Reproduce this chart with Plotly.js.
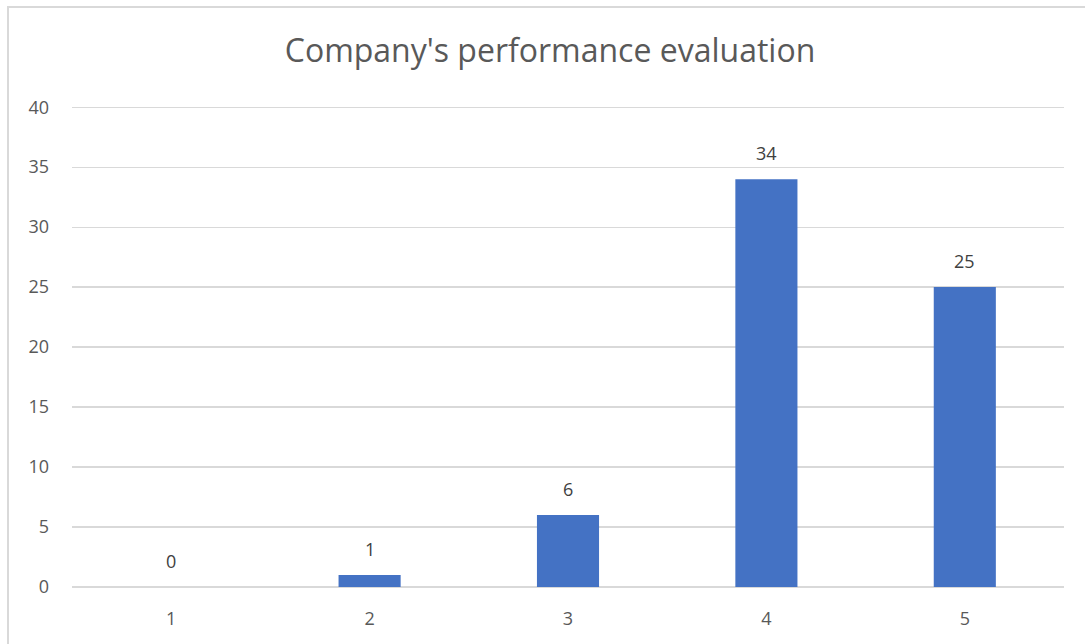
<!DOCTYPE html>
<html>
<head>
<meta charset="utf-8">
<script src="https://cdn.plot.ly/plotly-3.0.1.min.js"></script>
<style>
  html, body { margin: 0; padding: 0; background: #ffffff; }
  #wrap { position: relative; width: 1085px; height: 644px; overflow: hidden; }
  #chart { width: 1085px; height: 644px; }
  /* thin outer frame of the chart object */
  #frame {
    position: absolute; left: 7px; top: 6px; width: 1100px; height: 700px;
    border: 2px solid #d9d9d9; pointer-events: none;
  }
</style>
</head>
<body>
<div id="wrap">
  <div id="chart"></div>
  <div id="frame"></div>
</div>
<script>
// Rating scale (1 = lowest, 5 = highest) and number of responses per rating
const ratings = ['1', '2', '3', '4', '5'];
const responses = [0, 1, 6, 34, 25];
const yTicks = [0, 5, 10, 15, 20, 25, 30, 35, 40];

const W = 1085, H = 644;
const font = 'Open Sans, sans-serif';

const trace = {
  type: 'bar',
  x: ratings,
  y: responses,
  marker: { color: '#4472C4' },
  width: 0.313,
  hoverinfo: 'x+y'
};

// value labels sitting above each bar (x given as category index)
const labels = ratings.map((r, i) => ({
  x: i, y: responses[i], xref: 'x', yref: 'y',
  text: String(responses[i]),
  showarrow: false,
  yanchor: 'bottom',
  yshift: 12,
  font: { family: font, size: 18, color: '#404040' }
}));

const layout = {
  width: W,
  height: H,
  margin: { l: 72, r: 21, t: 106, b: 57 },
  paper_bgcolor: '#ffffff',
  plot_bgcolor: '#ffffff',
  showlegend: false,
  title: {
    text: "Company's performance evaluation",
    font: { family: font, size: 32, color: '#595959' },
    x: 550 / W, xref: 'container', xanchor: 'center',
    y: 1 - 51 / H, yanchor: 'middle'
  },
  xaxis: {
    type: 'category',
    range: [-0.5, ratings.length - 0.5],
    showgrid: false,
    zeroline: false,
    showline: false,
    ticks: '',
    tickfont: { family: font, size: 18, color: '#595959' },
    ticklabelstandoff: 19
  },
  yaxis: {
    range: [0, 40.1],
    tickvals: yTicks,
    ticktext: yTicks.map(String),
    showgrid: true,
    gridcolor: '#d9d9d9',
    gridwidth: 1.3,
    zeroline: true,
    zerolinecolor: '#d9d9d9',
    zerolinewidth: 1.3,
    showline: false,
    ticks: '',
    tickfont: { family: font, size: 18, color: '#595959' },
    ticklabelstandoff: 22
  },
  annotations: labels
};

Plotly.newPlot('chart', [trace], layout, { displayModeBar: false, staticPlot: true });
</script>
</body>
</html>
